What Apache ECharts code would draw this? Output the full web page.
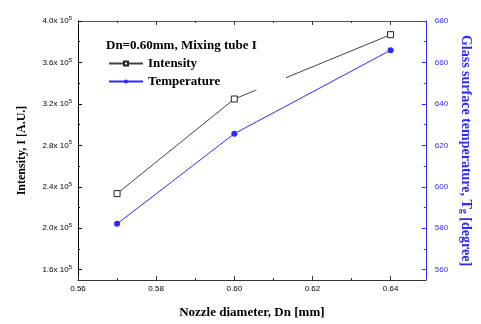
<!DOCTYPE html>
<html>
<head>
<meta charset="utf-8">
<script src="https://cdn.jsdelivr.net/npm/echarts@6/dist/echarts.min.js"></script>
<style>html,body{margin:0;padding:0;background:#fff}#c{width:481px;height:324px}</style>
</head>
<body>
<div id="c"></div>
<script>
const nozzle = [0.57, 0.60, 0.64];
const intensity = [233400, 324700, 386800];
const temperature = [582.1, 625.6, 665.9];
const xMajor = [0.56, 0.58, 0.60, 0.62, 0.64];
const xMinor = [0.57, 0.59, 0.61, 0.63];
const leftMajor = [160000, 200000, 240000, 280000, 320000, 360000, 400000];
const leftMinor = [180000, 220000, 260000, 300000, 340000, 380000];
const rightMajor = [560, 580, 600, 620, 640, 660, 680];
const rightMinor = [570, 590, 610, 630, 650, 670];

const serif = '"Liberation Serif", "DejaVu Serif", serif';
const sans = '"Liberation Sans", Arial, sans-serif';
const blue = '#2a2aff';
const dark = '#333';

const chart = echarts.init(document.getElementById('c'));
const xBase = {type:'value', min:0.56, max:0.649, splitLine:{show:false}};
const lBase = {type:'value', min:150000, max:400000, splitLine:{show:false}};
const rBase = {type:'value', min:555, max:680, splitLine:{show:false}};

chart.setOption({
  animation:false,
  backgroundColor:'#fff',
  grid:{left:78, right:46, top:21, bottom:38},
  title:{text:'Dn=0.60mm, Mixing tube I', left:106, top:39, padding:0, z:100,
    textStyle:{fontFamily:serif, fontWeight:'bold', fontSize:13, color:'#000'}},
  legend:{orient:'vertical', left:108, top:57, padding:0, z:100, itemWidth:34, itemHeight:5, itemGap:5,
    textStyle:{fontFamily:serif, fontWeight:'bold', fontSize:13, color:'#000'},
    data:['Intensity','Temperature']},
  graphic:[{type:'rect', shape:{x:104, y:34, width:182, height:56}, style:{fill:'#fff'}, z:50}],
  xAxis:[
    Object.assign({}, xBase, {position:'bottom',
      axisLine:{lineStyle:{color:dark, width:1}},
      axisTick:{inside:true, length:4, customValues:xMajor, lineStyle:{color:dark}},
      axisLabel:{customValues:xMajor, formatter:v=>v.toFixed(2), fontSize:8, fontFamily:sans, color:'#000', margin:5},
      name:'Nozzle diameter, Dn [mm]', nameLocation:'middle', nameGap:26,
      nameTextStyle:{fontFamily:serif, fontWeight:'bold', fontSize:13, color:'#000'}}),
    Object.assign({}, xBase, {position:'bottom', axisLine:{show:false},
      axisTick:{inside:true, length:2, customValues:xMinor, lineStyle:{color:dark}}, axisLabel:{show:false}}),
    Object.assign({}, xBase, {position:'top', axisLine:{lineStyle:{color:'#555'}},
      axisTick:{inside:true, length:4, customValues:xMajor, lineStyle:{color:dark}}, axisLabel:{show:false}}),
    Object.assign({}, xBase, {position:'top', axisLine:{show:false},
      axisTick:{inside:true, length:2, customValues:xMinor, lineStyle:{color:dark}}, axisLabel:{show:false}})
  ],
  yAxis:[
    Object.assign({}, lBase, {position:'left',
      axisLine:{lineStyle:{color:'#000'}},
      axisTick:{inside:true, length:4, customValues:leftMajor, lineStyle:{color:'#000'}},
      axisLabel:{customValues:leftMajor, margin:6, fontSize:8, fontFamily:sans, color:'#000',
        formatter:v=>(v/100000).toFixed(1)+'x 10{s|5}',
        rich:{s:{fontSize:6, fontFamily:sans, verticalAlign:'bottom', padding:[0,0,5,0]}}},
      name:'Intensity, I [A.U.]', nameLocation:'middle', nameGap:50, nameRotate:90,
      nameTextStyle:{fontFamily:serif, fontWeight:'bold', fontSize:12, color:'#000'}}),
    Object.assign({}, lBase, {position:'left', axisLine:{show:false},
      axisTick:{inside:true, length:2, customValues:leftMinor, lineStyle:{color:'#000'}}, axisLabel:{show:false}}),
    Object.assign({}, rBase, {position:'right',
      axisLine:{lineStyle:{color:blue}},
      axisTick:{inside:true, length:4, customValues:rightMajor, lineStyle:{color:blue}},
      axisLabel:{customValues:rightMajor, margin:9, fontSize:8, fontFamily:sans, color:blue},
      name:'Glass surface temperature, T{sub|g} [degree]', nameLocation:'middle', nameGap:33, nameRotate:-90,
      nameTextStyle:{fontFamily:serif, fontWeight:'bold', fontSize:14, color:blue,
        rich:{sub:{fontFamily:serif, fontWeight:'bold', fontSize:10, color:blue, verticalAlign:'bottom'}}}}),
    Object.assign({}, rBase, {position:'right', axisLine:{show:false},
      axisTick:{inside:true, length:2, customValues:rightMinor, lineStyle:{color:blue}}, axisLabel:{show:false}})
  ],
  series:[
    {name:'Intensity', type:'line', xAxisIndex:0, yAxisIndex:0,
      data:nozzle.map((x,i)=>[x, intensity[i]]),
      symbol:'rect', symbolSize:6,
      itemStyle:{color:'#fff', borderColor:'#222', borderWidth:1},
      lineStyle:{color:'#444', width:1}},
    {name:'Temperature', type:'line', xAxisIndex:0, yAxisIndex:2,
      data:nozzle.map((x,i)=>[x, temperature[i]]),
      symbol:'circle', symbolSize:6,
      itemStyle:{color:blue},
      lineStyle:{color:blue, width:1}}
  ]
});
</script>
</body>
</html>
